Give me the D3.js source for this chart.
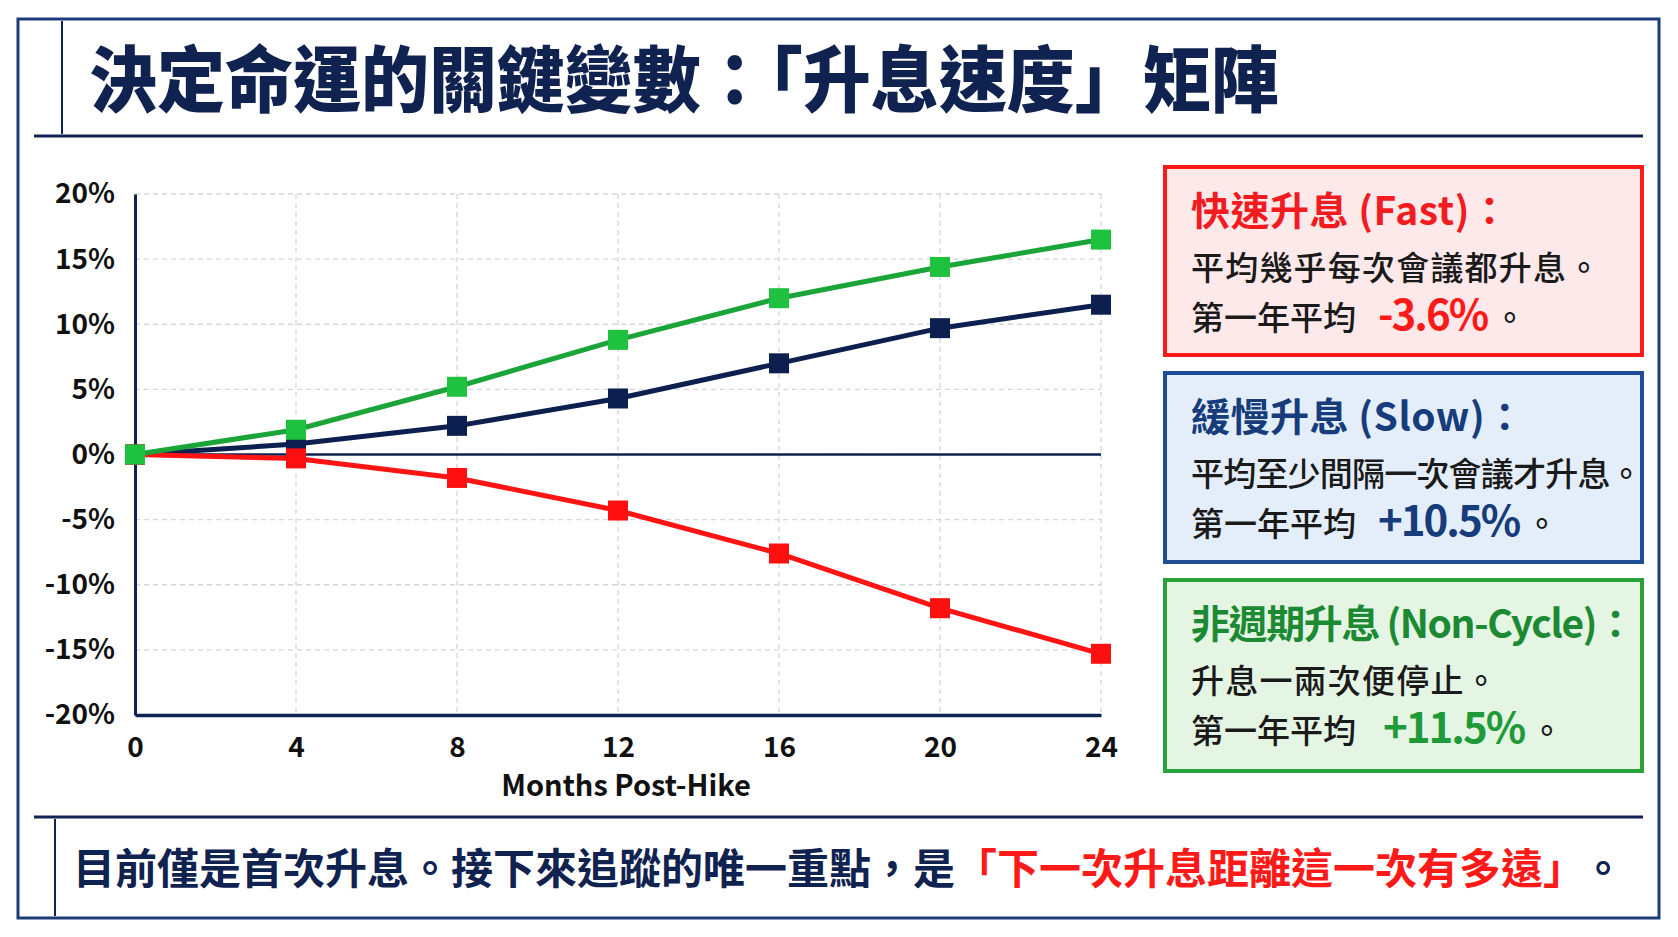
<!DOCTYPE html>
<html>
<head>
<meta charset="UTF-8">
<script src="https://cdn.jsdelivr.net/npm/d3@7"></script>
<title>升息速度矩陣</title>
<style>
  html, body { margin: 0; padding: 0; background: #fff; }
  svg text { font-family: "Noto Sans CJK TC", "Noto Sans CJK SC", sans-serif; }
</style>
</head>
<body>
<div id="container"></div>
<script>
// 資料
var months = [0, 4, 8, 12, 16, 20, 24];
var slowVals = [0, 0.8, 2.2, 4.3, 7.0, 9.7, 11.5];
var fastVals = [0, -0.3, -1.8, -4.3, -7.6, -11.8, -15.3];
var nonCycleVals = [0, 1.9, 5.2, 8.8, 12.0, 14.4, 16.5];
var yTicks = [20, 15, 10, 5, 0, -5, -10, -15, -20];
var xLabel = "Months Post-Hike";

var W = 1678, H = 937;
var navy = "#0f2250", frame = "#1c3c78";

var svg = d3.select("#container").append("svg")
  .attr("width", W).attr("height", H);

// 外框
svg.append("rect").attr("x", 18).attr("y", 19).attr("width", 1641).attr("height", 899)
  .attr("fill", "#fff").attr("stroke", frame).attr("stroke-width", 3);

// 標題
svg.append("line").attr("x1", 62).attr("x2", 62).attr("y1", 21).attr("y2", 134)
  .attr("stroke", navy).attr("stroke-width", 2);
svg.append("text")
  .attr("transform", "translate(89,106) scale(1,1.06)")
  .attr("font-size", 68).attr("font-weight", 900).attr("fill", navy)
  .text("決定命運的關鍵變數：「升息速度」矩陣");
svg.append("line").attr("x1", 34).attr("x2", 1643).attr("y1", 136).attr("y2", 136)
  .attr("stroke", navy).attr("stroke-width", 3);

// 比例尺
var x = d3.scaleLinear().domain([0, 24]).range([135, 1101]);
var y = d3.scaleLinear().domain([-20, 20]).range([715, 194]);

var g = svg.append("g");

// 網格
g.selectAll(".hgrid").data(yTicks).enter().append("line")
  .attr("x1", x(0)).attr("x2", x(24))
  .attr("y1", function(d){ return y(d); }).attr("y2", function(d){ return y(d); })
  .attr("stroke", "#d4d6dc").attr("stroke-width", 1.3).attr("stroke-dasharray", "5,4");
g.selectAll(".vgrid").data(months).enter().append("line")
  .attr("x1", function(d){ return x(d); }).attr("x2", function(d){ return x(d); })
  .attr("y1", y(20)).attr("y2", y(-20))
  .attr("stroke", "#d4d6dc").attr("stroke-width", 1.3).attr("stroke-dasharray", "5,4");

// 座標軸
var yAxis = d3.axisLeft(y).tickValues(yTicks).tickSize(0).tickPadding(20)
  .tickFormat(function(d){ return d + "%"; });
var yg = g.append("g").attr("transform", "translate(" + x(0) + ",0)").call(yAxis);
yg.select(".domain").attr("stroke", navy).attr("stroke-width", 3);
yg.selectAll("text").attr("font-size", 28).attr("font-weight", 700).attr("fill", "#111")
  .attr("font-family", "Noto Sans CJK TC");

var xAxis = d3.axisBottom(x).tickValues(months).tickSize(0).tickPadding(22);
var xg = g.append("g").attr("transform", "translate(0," + y(-20) + ")").call(xAxis);
xg.select(".domain").attr("stroke", navy).attr("stroke-width", 3.5);
xg.selectAll("text").attr("font-size", 28).attr("font-weight", 700).attr("fill", "#111")
  .attr("font-family", "Noto Sans CJK TC");

g.append("line").attr("x1", x(0)).attr("x2", x(24)).attr("y1", y(0)).attr("y2", y(0))
  .attr("stroke", navy).attr("stroke-width", 2.5);

g.append("text").attr("x", 626).attr("y", 796).attr("text-anchor", "middle")
  .attr("font-size", 29).attr("font-weight", 700).attr("fill", "#111").text(xLabel);

// 折線
var series = [
  { vals: slowVals, line: "#0c1f4f", mark: "#0c1f4f" },
  { vals: fastVals, line: "#ff1414", mark: "#ff1010" },
  { vals: nonCycleVals, line: "#1ba437", mark: "#1ec23e" }
];
var line = d3.line().x(function(d, i){ return x(months[i]); }).y(function(d){ return y(d); });
series.forEach(function(s){
  g.append("path").datum(s.vals).attr("d", line).attr("fill", "none")
    .attr("stroke", s.line).attr("stroke-width", 5);
});
var ms = 20;
series.forEach(function(s){
  g.selectAll(null).data(s.vals).enter().append("rect")
    .attr("x", function(d, i){ return x(months[i]) - ms / 2; })
    .attr("y", function(d){ return y(d) - ms / 2; })
    .attr("width", ms).attr("height", ms).attr("fill", s.mark);
});

// 右側說明框
var boxes = [
  { y: 167, h: 188, stroke: "#ff1a1a", fill: "#fde9ea", hc: "#f21b1f", hls: 0.5, ls: 1.2,
    head: "快速升息 (Fast)：", line2: "平均幾乎每次會議都升息。", val: "-3.6%", vc: "#ff1a1a", vdx: 22 },
  { y: 373, h: 189, stroke: "#1f4d98", fill: "#e4eefa", hc: "#163c7c", hls: 0.5, ls: -0.8,
    head: "緩慢升息 (Slow)：", line2: "平均至少間隔一次會議才升息。", val: "+10.5%", vc: "#163c7c", vdx: 22 },
  { y: 580, h: 191, stroke: "#28a33b", fill: "#e5f5e4", hc: "#1c8a33", hls: -1.4, ls: 1.2,
    head: "非週期升息 (Non-Cycle)：", line2: "升息一兩次便停止。", val: "+11.5%", vc: "#1e9a38", vdx: 27 }
];
var bx = 1165, bw = 477;
boxes.forEach(function(b){
  var bg = svg.append("g").attr("transform", "translate(" + bx + "," + b.y + ")");
  bg.append("rect").attr("width", bw).attr("height", b.h)
    .attr("fill", b.fill).attr("stroke", b.stroke).attr("stroke-width", 4);
  bg.append("text").attr("x", 26).attr("y", 58).attr("font-size", 39).attr("font-weight", 700)
    .attr("letter-spacing", b.hls).attr("fill", b.hc).text(b.head);
  bg.append("text").attr("x", 26).attr("y", 113).attr("font-size", 33).attr("font-weight", 500)
    .attr("letter-spacing", b.ls).attr("fill", "#1a1a1a").text(b.line2);
  var t = bg.append("text").attr("x", 26).attr("y", 163).attr("font-size", 33)
    .attr("font-weight", 500).attr("fill", "#1a1a1a");
  t.append("tspan").text("第一年平均");
  t.append("tspan").attr("dx", b.vdx).attr("font-size", 42).attr("font-weight", 700)
    .attr("letter-spacing", -2).attr("fill", b.vc).text(b.val);
  t.append("tspan").attr("dx", 6).text("。");
});

// 底部結論
svg.append("line").attr("x1", 34).attr("x2", 1643).attr("y1", 817).attr("y2", 817)
  .attr("stroke", navy).attr("stroke-width", 3);
svg.append("line").attr("x1", 55).attr("x2", 55).attr("y1", 819).attr("y2", 916)
  .attr("stroke", navy).attr("stroke-width", 2);
var bt = svg.append("text").attr("x", 73).attr("y", 884).attr("font-size", 42)
  .attr("font-weight", 700).attr("fill", navy);
bt.append("tspan").text("目前僅是首次升息。接下來追蹤的唯一重點，是");
bt.append("tspan").attr("fill", "#ff1a1a").text("「下一次升息距離這一次有多遠」");
bt.append("tspan").attr("dx", 18).text("。");
</script>
</body>
</html>
